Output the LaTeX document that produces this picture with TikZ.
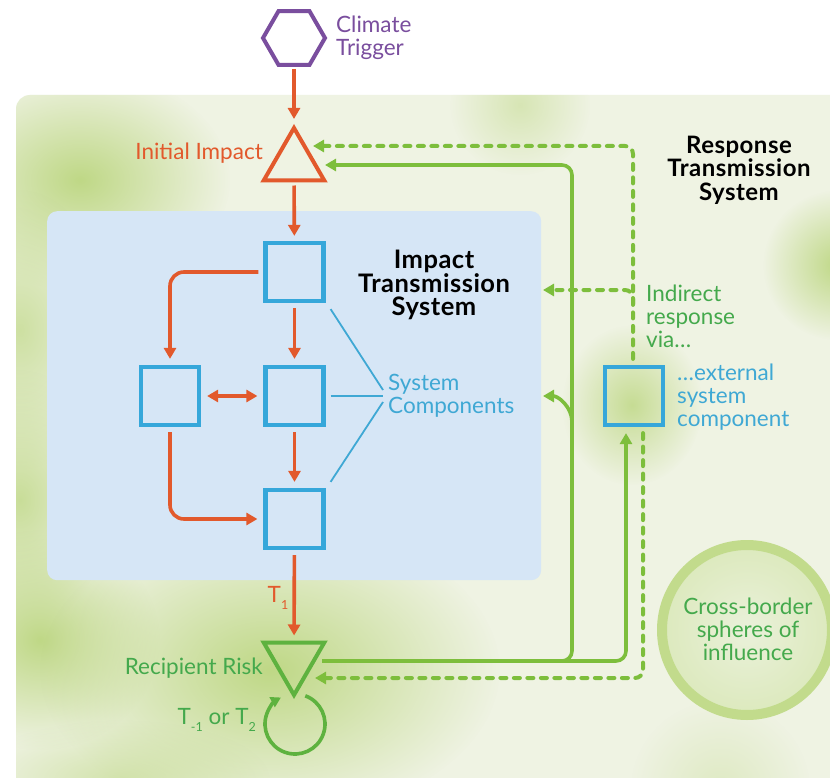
\documentclass[tikz,border=0pt]{standalone}
\usepackage{fontspec}
\setmainfont{Lato}
\usetikzlibrary{shapes.geometric,arrows.meta,fadings,calc}
\definecolor{cOr}{HTML}{E2592C}
\definecolor{cPu}{HTML}{7A4E9E}
\definecolor{cBl}{HTML}{36A7DA}
\definecolor{cBlT}{HTML}{3FA8D4}
\definecolor{cBlF}{HTML}{D6E6F6}
\definecolor{cLime}{HTML}{7DBE3C}
\definecolor{cGr}{HTML}{5EB23F}
\definecolor{cGrT}{HTML}{44A94C}
\definecolor{cBg}{HTML}{EFF3E3}
\definecolor{cBlob}{HTML}{BFD886}
\definecolor{cRing}{HTML}{C2DB8C}
\definecolor{cRingIn}{HTML}{EAF1DA}
\definecolor{cRingOut}{HTML}{DCE9BD}
\tikzfading[name=blobfade, inner color=transparent!0, outer color=transparent!100]
\newcommand\lsub[1]{\raisebox{-0.32em}{\fontsize{12.5}{12.5}\selectfont #1}}
\tikzset{
  txt/.style={font=\fontsize{22.5}{23}\selectfont, inner sep=0pt},
  ttl/.style={font=\fontsize{24}{23.5}\selectfont\bfseries\addfontfeatures{LetterSpace=2}, align=center, inner sep=0pt, text=black},
  hexs/.style={regular polygon, regular polygon sides=6, draw=cPu, line width=4pt, minimum size=62pt, inner sep=0pt},
  trio/.style={regular polygon, regular polygon sides=3, line width=4pt, minimum size=70pt, inner sep=0pt},
  comp/.style={rectangle, draw=cBl, line width=4.2pt, minimum size=58pt, inner sep=0pt},
  oarr/.style={draw=cOr, line width=3.6pt, -{Triangle[length=11pt,width=12pt]}},
  oboth/.style={draw=cOr, line width=3.6pt, {Triangle[length=11pt,width=12pt]}-{Triangle[length=11pt,width=12pt]}},
  garr/.style={draw=cLime, line width=3.6pt, -{Triangle[length=11pt,width=12pt]}},
  gdarr/.style={draw=cLime, line width=4pt, line cap=round, dash pattern=on 6pt off 7.5pt, -{Triangle[length=11pt,width=12pt]}},
  sline/.style={draw=cBlT, line width=1.8pt},
  blob/.style={fill=cBlob, path fading=blobfade}
}
\begin{document}
\begin{tikzpicture}[x=1pt,y=1pt]
\useasboundingbox (0,0) rectangle (830,-778);
\clip (0,0) rectangle (830,-778);
\fill[white] (0,0) rectangle (830,-778);
% background panel
\fill[cBg, rounded corners=14pt] (16,-95) rectangle (860,-810);
\begin{scope}
  \clip[rounded corners=14pt] (16,-95) rectangle (860,-810);
  \fill[blob] (80,-180) ellipse (150pt and 110pt);
  \fill[blob, fill opacity=0.7] (20,-330) ellipse (90pt and 140pt);
  \fill[blob, fill opacity=0.8] (20,-500) ellipse (90pt and 130pt);
  \fill[blob] (40,-640) ellipse (120pt and 110pt);
  \fill[blob] (270,-670) ellipse (230pt and 150pt);
  \fill[blob, fill opacity=0.6] (120,-780) ellipse (150pt and 60pt);
  \fill[blob] (838,-265) circle (75pt);
  \fill[blob, fill opacity=0.85] (632,-405) ellipse (70pt and 80pt);
  \fill[blob, fill opacity=0.5] (520,-105) circle (70pt);
  \fill[blob, fill opacity=0.35] (720,-790) circle (90pt);
\end{scope}
% impact transmission system panel
\node[fill=cBlF, rounded corners=10pt, minimum width=494pt, minimum height=369pt, inner sep=0pt, anchor=north west] (its) at (47,-211) {};
% cross-border ring
\node[circle, draw=cRing, line width=10pt, minimum size=170pt, inner sep=0pt, inner color=cRingIn, outer color=cRingOut] (ring) at (747,-630) {};
% shapes
\node[hexs] (hex) at (294,-38) {};
\node[trio, draw=cOr] (tri1) at (294,-163) {};
\node[trio, draw=cGr, shape border rotate=180] (tri2) at (294,-660) {};
\node[comp] (b1) at (294.5,-272) {};
\node[comp] (b2) at (170,-396) {};
\node[comp] (b3) at (294.5,-396) {};
\node[comp] (b4) at (294.5,-519) {};
\node[comp] (ext) at (634,-396) {};
% texts
\node[txt, text=cPu, align=left, anchor=west] (ctl) at (336,-38) {Climate\\Trigger};
\node[txt, text=cOr, anchor=east] (iil) at (263,-153) {Initial Impact};
\node[ttl, font=\fontsize{25.5}{23.5}\selectfont\bfseries\addfontfeatures{LetterSpace=2}] (itsl) at (434,-285) {Impact\\Transmission\\System};
\node[ttl] (rtsl) at (739,-170) {Response\\Transmission\\System};
\node[txt, text=cBlT, align=left, anchor=west] (scl) at (388,-396) {System\\Components};
\node[txt, text=cGrT, align=left, anchor=west] (indl) at (646,-316) {Indirect\\response\\via…};
\node[txt, text=cBlT, align=left, anchor=west] (exl) at (677,-397) {…external\\system\\component};
\node[txt, text=cGrT, anchor=east] (rrl) at (263,-668) {Recipient Risk};
\node[txt, text=cGrT, anchor=east] (tl) at (256,-720) {T\lsub{-1} or T\lsub{2}};
\node[txt, text=cOr] (t1l) at (278,-598) {T\lsub{1}};
\node[txt, text=cGrT, align=center] (cbl) at (748,-629) {Cross-border\\spheres of\\influence};
% coordinates for connector bends
\coordinate (vbot) at (572,-661);
\coordinate (vtop) at (572,-165);
\coordinate (brs) at (572,-422);
\coordinate (brt) at (543,-396);
\coordinate (dtop) at (633,-146);
\coordinate (dbr) at (633,-290);
\coordinate (dbt) at (543,-290);
\coordinate (loopc) at (295,-724);
% orange connectors
\draw[oarr, shorten <=2pt, shorten >=5pt] (hex) -- (tri1);
\draw[oarr, shorten <=3pt, shorten >=5pt] (tri1) -- (b1);
\draw[oarr, rounded corners=14pt, shorten <=5pt, shorten >=6pt] (b1.west) -| (b2.north);
\draw[oarr, shorten <=5pt, shorten >=6pt] (b1) -- (b3);
\draw[oboth, shorten <=6pt, shorten >=6pt] (b2) -- (b3);
\draw[oarr, shorten <=5pt, shorten >=6pt] (b3) -- (b4);
\draw[oarr, rounded corners=14pt, shorten <=5pt, shorten >=6pt] (b2.south) |- (b4.west);
\draw[oarr, shorten <=5pt, shorten >=5pt] (b4) -- (tri2);
% system component pointers
\draw[sline] ([xshift=5pt,yshift=-6pt]b1.south east) -- ([xshift=-5pt,yshift=6pt]scl.west);
\draw[sline] ([xshift=5pt]b3.east) -- ([xshift=-5pt]scl.west);
\draw[sline] ([xshift=5pt,yshift=6pt]b4.north east) -- ([xshift=-5pt,yshift=-6pt]scl.west);
% green solid connectors
\draw[garr, rounded corners=10pt, shorten >=6pt] ([xshift=28pt,yshift=-1pt]tri2.center) -| ([xshift=-8pt]ext.south);
\draw[garr, rounded corners=10pt] ([xshift=28pt,yshift=-1pt]tri2.center) -- (vbot) -- (vtop) -- ([xshift=31pt,yshift=-2pt]tri1.center);
\draw[garr] (brs) to[out=90,in=0] (brt);
% green dashed connectors
\draw[gdarr, rounded corners=8pt, shorten <=6pt] ([xshift=-1pt]ext.north) -- (dtop) -- ([xshift=19pt,yshift=17pt]tri1.center);
\draw[gdarr, rounded corners=8pt] ([yshift=-14pt]dbr) -- (dbr) -- (dbt);
\draw[gdarr, rounded corners=8pt, shorten <=6pt] ([xshift=9pt]ext.south) |- ([xshift=21pt,yshift=-18pt]tri2.center);
% feedback loop
\draw[draw=cGr, line width=3.6pt, -{Triangle[length=10pt,width=11pt]}] ([shift={(70:30pt)}]loopc) arc[start angle=70, end angle=-242, radius=30pt];
\end{tikzpicture}
\end{document}
